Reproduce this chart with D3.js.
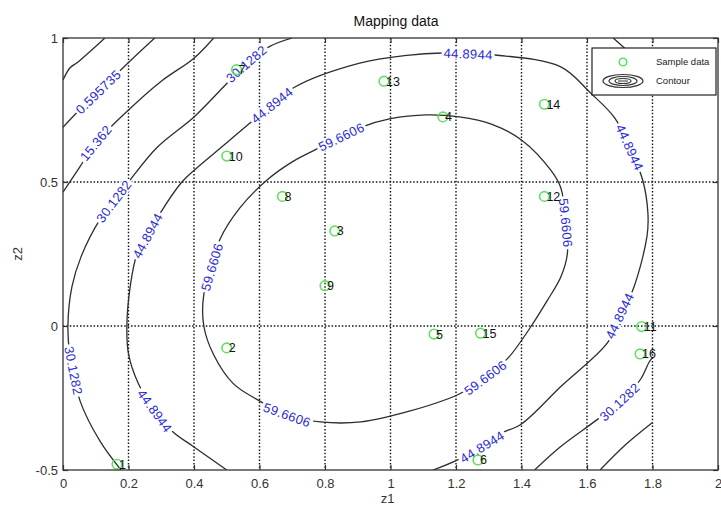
<!DOCTYPE html>
<html>
<head>
<meta charset="utf-8">
<script src="https://cdn.jsdelivr.net/npm/d3@7"></script>
<style>
body { margin: 0; background: #fff; }
text { font-family: "Liberation Sans", Arial, Helvetica, sans-serif; }
</style>
</head>
<body>
<div id="chart"></div>
<script>
//sample data (z1, z2)
const sampleIds = ["1","2","3","4","5","6","7","8","9","10","11","12","13","14","15","16"];
const sampleZ1 = [0.165, 0.50, 0.83, 1.16, 1.133, 1.267, 0.53, 0.67, 0.80, 0.50, 1.767, 1.47, 0.98, 1.47, 1.275, 1.762];
const sampleZ2 = [-0.48, -0.076, 0.33, 0.726, -0.028, -0.465, 0.89, 0.45, 0.14, 0.59, -0.002, 0.45, 0.85, 0.77, -0.025, -0.097];

//contour lines, digitised as [z1, z2] points
const contourCorner = [[0, 0.854], [0.021, 0.896], [0.046, 0.917], [0.128, 1.0]];
const contour0595 = [[0, 0.69], [0.05, 0.75], [0.11, 0.815], [0.2, 0.915], [0.28, 1.0]];
const contour15 = [[0, 0.465], [0.05, 0.55], [0.10, 0.635], [0.2, 0.75], [0.3, 0.85], [0.4, 0.93], [0.46, 1.0]];
const contour30Left = [[0.177, -0.5], [0.113, -0.40], [0.052, -0.26], [0.021, -0.1], [0.015, 0], [0.027, 0.135],
  [0.055, 0.24], [0.113, 0.37], [0.2, 0.5], [0.287, 0.62], [0.40, 0.726], [0.49, 0.83], [0.56, 0.91], [0.63, 0.97], [0.70, 1.0]];
const contour30Right = [[1.44, -0.5], [1.518, -0.42], [1.63, -0.326], [1.70, -0.264], [1.762, -0.1875], [1.79, -0.125], [1.8, -0.11]];
const contour30Top = [[1.68, 1.0], [1.71, 0.97], [1.8, 0.88]];
const contour15Right = [[1.64, -0.5], [1.72, -0.41], [1.8, -0.335]];
const contour44 = [[0.5, -0.5], [0.40, -0.42], [0.336, -0.368], [0.28, -0.295], [0.23, -0.2], [0.2, -0.097], [0.195, 0],
  [0.205, 0.135], [0.226, 0.25], [0.26, 0.316], [0.296, 0.39], [0.363, 0.5], [0.4, 0.54], [0.5, 0.636], [0.571, 0.705],
  [0.708, 0.83], [0.906, 0.913], [1.05, 0.94], [1.157, 0.948], [1.32, 0.941], [1.52, 0.90], [1.61, 0.81], [1.685, 0.722],
  [1.73, 0.62], [1.77, 0.507], [1.786, 0.392], [1.783, 0.31], [1.74, 0.125], [1.70, 0.035], [1.664, -0.056], [1.52, -0.21],
  [1.40, -0.34], [1.334, -0.375], [1.28, -0.42], [1.197, -0.469], [1.13, -0.5]];
const contour59 = [[0.43, 0], [0.43, 0.11], [0.455, 0.205], [0.479, 0.30], [0.54, 0.41], [0.623, 0.507], [0.70, 0.57],
  [0.785, 0.62], [0.91, 0.69], [1.0, 0.72], [1.11, 0.733], [1.21, 0.726], [1.31, 0.70], [1.40, 0.646], [1.49, 0.54],
  [1.52, 0.48], [1.535, 0.36], [1.54, 0.25], [1.52, 0.17], [1.478, 0.087], [1.43, 0], [1.36, -0.11], [1.29, -0.18],
  [1.21, -0.236], [1.06, -0.295], [0.91, -0.333], [0.785, -0.333], [0.684, -0.309], [0.60, -0.26], [0.52, -0.2],
  [0.46, -0.1], [0.43, 0]];

const contourLines = [contourCorner, contour0595, contour15, contour30Left, contour30Right, contour30Top, contour15Right, contour44, contour59];

//inline contour labels: text, line, approximate place
const labelTexts = ["0.595735", "15.362", "30.1282", "30.1282", "44.8944", "44.8944", "59.6606", "44.8944", "59.6606",
  "44.8944", "59.6606", "44.8944", "59.6606", "30.1282", "44.8944", "59.6606", "44.8944", "30.1282"];
const labelLines = [contour0595, contour15, contour30Left, contour30Left, contour44, contour44, contour59, contour44, contour59,
  contour44, contour59, contour44, contour59, contour30Right, contour44, contour59, contour44, contour30Left];
const labelZ1 = [0.11, 0.10, 0.15, 0.56, 0.638, 0.263, 0.455, 1.237, 0.85, 1.73, 1.53, 1.70, 1.29, 1.70, 1.28, 0.684, 0.28, 0.0275];
const labelZ2 = [0.81, 0.635, 0.4375, 0.91, 0.767, 0.31, 0.205, 0.948, 0.656, 0.62, 0.358, 0.035, -0.18, -0.264, -0.42, -0.309, -0.295, -0.156];

//axes
const xTicks = [0, 0.2, 0.4, 0.6, 0.8, 1, 1.2, 1.4, 1.6, 1.8, 2];
const xTickLabels = ["0", "0.2", "0.4", "0.6", "0.8", "1", "1.2", "1.4", "1.6", "1.8", "2"];
const yTicks = [-0.5, 0, 0.5, 1];
const yTickLabels = ["-0.5", "0", "0.5", "1"];

const W = 721, H = 514;
const margin = { top: 38, right: 3, bottom: 44, left: 63 },
      width = W - margin.left - margin.right,
      height = H - margin.top - margin.bottom;

const x = d3.scaleLinear().domain([0, 2]).range([0, width]);
const y = d3.scaleLinear().domain([-0.5, 1]).range([height, 0]);

const svg = d3.select("#chart").append("svg")
    .attr("width", W).attr("height", H);

svg.append("rect").attr("width", W).attr("height", H).attr("fill", "#fff");

const g = svg.append("g")
    .attr("transform", "translate(" + margin.left + "," + margin.top + ")");

g.append("clipPath").attr("id", "plotclip")
  .append("rect").attr("width", width).attr("height", height);

//dotted grid
g.selectAll(".gx").data(xTicks.slice(1, -1)).enter().append("line")
    .attr("x1", d => x(d)).attr("x2", d => x(d)).attr("y1", 0).attr("y2", height)
    .attr("stroke", "#111").attr("stroke-width", 1.4).attr("stroke-dasharray", "1.5,1.9");
g.selectAll(".gy").data(yTicks.slice(1, -1)).enter().append("line")
    .attr("x1", 0).attr("x2", width).attr("y1", d => y(d)).attr("y2", d => y(d))
    .attr("stroke", "#111").attr("stroke-width", 1.4).attr("stroke-dasharray", "1.5,1.9");

//contours
const cg = g.append("g").attr("clip-path", "url(#plotclip)");
const line = d3.line().x(d => x(d[0])).y(d => y(d[1])).curve(d3.curveCatmullRom.alpha(0.5));
const closedLine = d3.line().x(d => x(d[0])).y(d => y(d[1])).curve(d3.curveCatmullRomClosed.alpha(0.5));

cg.selectAll(".contour").data(contourLines).enter().append("path")
    .attr("class", "contour")
    .attr("d", d => d === contour59 ? closedLine(d.slice(0, -1)) : line(d))
    .attr("fill", "none").attr("stroke", "#2e2e2e").attr("stroke-width", 1.3);

//helpers to put a label along its line
function toPx(pts) { return pts.map(p => [x(p[0]), y(p[1])]); }
function arcPos(pts, p) {
  let best = Infinity, bestS = 0, acc = 0;
  for (let i = 0; i < pts.length - 1; i++) {
    const a = pts[i], b = pts[i + 1];
    const dx = b[0] - a[0], dy = b[1] - a[1], len = Math.hypot(dx, dy);
    let t = len ? ((p[0] - a[0]) * dx + (p[1] - a[1]) * dy) / (len * len) : 0;
    t = Math.max(0, Math.min(1, t));
    const d = Math.hypot(a[0] + t * dx - p[0], a[1] + t * dy - p[1]);
    if (d < best) { best = d; bestS = acc + t * len; }
    acc += len;
  }
  return bestS;
}
function pointAt(pts, s) {
  let acc = 0;
  for (let i = 0; i < pts.length - 1; i++) {
    const a = pts[i], b = pts[i + 1];
    const len = Math.hypot(b[0] - a[0], b[1] - a[1]);
    if (acc + len >= s || i === pts.length - 2) {
      const t = len ? Math.max(0, Math.min(1, (s - acc) / len)) : 0;
      return [a[0] + t * (b[0] - a[0]), a[1] + t * (b[1] - a[1])];
    }
    acc += len;
  }
  return pts[0];
}

const lg = cg.append("g");
labelTexts.forEach(function(txt, i) {
  const pts = toPx(labelLines[i]);
  const s = arcPos(pts, [x(labelZ1[i]), y(labelZ2[i])]);
  const half = 24;
  const p0 = pointAt(pts, s - half), p1 = pointAt(pts, s + half);
  let ang = Math.atan2(p1[1] - p0[1], p1[0] - p0[0]) * 180 / Math.PI;
  if (ang > 90) ang -= 180;
  if (ang < -90) ang += 180;
  const c = pointAt(pts, s);
  const t = lg.append("g").attr("transform", "translate(" + c[0] + "," + c[1] + ") rotate(" + ang + ")");
  const rect = t.append("rect").attr("fill", "#fff");
  const tx = t.append("text").text(txt)
      .attr("text-anchor", "middle").attr("dy", "0.35em")
      .attr("font-size", 13).attr("letter-spacing", 0.3).attr("fill", "#2a2ad2");
  const w = tx.node().getComputedTextLength();
  rect.attr("x", -w / 2 - 2).attr("y", -6).attr("width", w + 4).attr("height", 12);
});

//sample points
const pts = sampleIds.map((id, i) => ({ id: id, z1: sampleZ1[i], z2: sampleZ2[i] }));
g.selectAll(".pt").data(pts).enter().append("circle")
    .attr("cx", d => x(d.z1)).attr("cy", d => y(d.z2)).attr("r", 4.8)
    .attr("fill", "none").attr("stroke", "#5fe05f").attr("stroke-width", 1.6);
g.selectAll(".ptlab").data(pts).enter().append("text")
    .attr("x", d => x(d.z1) + 2).attr("y", d => y(d.z2) + 4.5)
    .attr("font-size", 12.5).attr("fill", "#111").text(d => d.id);

//axes with inward ticks
g.append("g").attr("transform", "translate(0," + height + ")")
    .call(d3.axisBottom(x).tickValues(xTicks).tickSize(-5).tickPadding(9).tickFormat((d, i) => xTickLabels[i]));
g.append("g").call(d3.axisTop(x).tickValues(xTicks).tickSize(-5).tickFormat(""));
g.append("g")
    .call(d3.axisLeft(y).tickValues(yTicks).tickSize(-5).tickPadding(5).tickFormat((d, i) => yTickLabels[i]));
g.append("g").attr("transform", "translate(" + width + ",0)")
    .call(d3.axisRight(y).tickValues(yTicks).tickSize(-5).tickFormat(""));
g.selectAll(".domain").remove();
g.selectAll(".tick line").attr("stroke", "#333").attr("stroke-width", 1.2);
g.selectAll(".tick text").attr("font-size", 13).attr("fill", "#333")
    .style("font-family", "'Liberation Sans', Arial, sans-serif");

g.append("rect").attr("width", width).attr("height", height)
    .attr("fill", "none").attr("stroke", "#333").attr("stroke-width", 1.3);

//titles
svg.append("text").attr("x", 396).attr("y", 26).attr("text-anchor", "middle")
    .attr("font-size", 14).attr("fill", "#111").text("Mapping data");
svg.append("text").attr("x", margin.left + x(1) - 3).attr("y", 503).attr("text-anchor", "middle")
    .attr("font-size", 13).attr("fill", "#333").text("z1");
svg.append("text").attr("transform", "translate(22," + (margin.top + y(0.25)) + ") rotate(-90)")
    .attr("text-anchor", "middle").attr("font-size", 13).attr("fill", "#333").text("z2");

//legend
const leg = svg.append("g").attr("transform", "translate(592,48)");
leg.append("rect").attr("width", 124).attr("height", 47)
    .attr("fill", "#fff").attr("stroke", "#222").attr("stroke-width", 1.2);
leg.append("circle").attr("cx", 31).attr("cy", 14).attr("r", 3.8)
    .attr("fill", "none").attr("stroke", "#5fe05f").attr("stroke-width", 1.6);
[[20, 6.5], [14, 4.5], [8, 2.5]].forEach(function(r) {
  leg.append("ellipse").attr("cx", 31).attr("cy", 33).attr("rx", r[0]).attr("ry", r[1])
      .attr("fill", "none").attr("stroke", "#333").attr("stroke-width", 1.2);
});
leg.append("line").attr("x1", 26).attr("x2", 36).attr("y1", 33).attr("y2", 33).attr("stroke", "#333");
leg.append("text").attr("x", 64).attr("y", 17).attr("font-size", 9.5).attr("fill", "#222").text("Sample data");
leg.append("text").attr("x", 64).attr("y", 36).attr("font-size", 9.5).attr("fill", "#222").text("Contour");
</script>
</body>
</html>
